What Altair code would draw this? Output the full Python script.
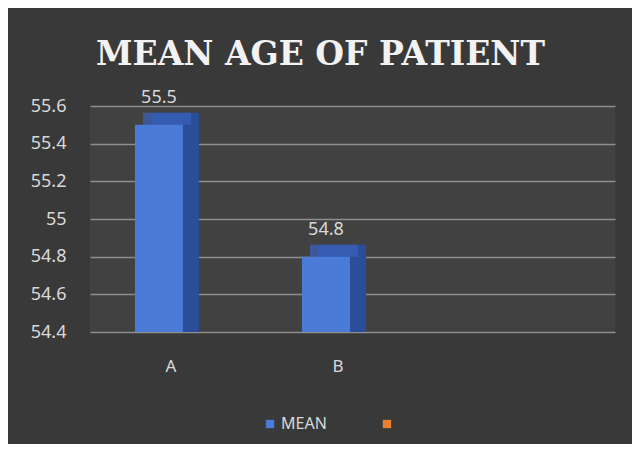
import altair as alt
import pandas as pd

categories = ["A", "B"]
values = [55.5, 54.8]
series = ["MEAN", "MEAN"]
legend_series = ["MEAN", " "]
legend_colors = ["#4a7bd6", "#ED7D31"]
y_ticks = [54.4, 54.6, 54.8, 55.0, 55.2, 55.4, 55.6]

df = pd.DataFrame({"cat": categories, "value": values, "series": series})

FONT = "Noto Sans"
TXT = "#d9d9d9"

x_enc = alt.X(
    "cat:N",
    scale=alt.Scale(domain=categories, paddingInner=0.7126, paddingOuter=0.928, align=0.145),
    axis=alt.Axis(title=None, labelAngle=0, domain=False, ticks=False, grid=False,
                  labelFont=FONT, labelFontSize=17, labelColor=TXT,
                  labelPadding=26, labelOffset=12),
)
y_enc = alt.Y(
    "value:Q",
    scale=alt.Scale(domain=[y_ticks[0], y_ticks[-1]], zero=False, nice=False),
    axis=alt.Axis(title=None, values=y_ticks, format="~g", domain=False, ticks=False,
                  grid=True, gridColor="#8e8e8e", gridWidth=1.6,
                  labelFont=FONT, labelFontSize=18, labelColor=TXT, labelPadding=24),
)

base = alt.Chart(df).encode(x=x_enc, y=y_enc)

side = base.mark_bar(color="#2b4e9a", xOffset=16, yOffset=-12).encode(y2=alt.datum(y_ticks[0]))
top = base.mark_tick(color="#3a63bb", size=48, thickness=12, xOffset=8, yOffset=-6, orient="horizontal")
front = base.mark_bar().encode(
    y2=alt.datum(y_ticks[0]),
    color=alt.Color(
        "series:N",
        scale=alt.Scale(domain=legend_series, range=legend_colors),
        legend=alt.Legend(title=None, orient="none", legendX=172, legendY=310,
                          direction="horizontal", symbolType="square", symbolSize=70,
                          symbolStrokeWidth=0, labelFont=FONT, labelFontSize=16,
                          labelColor=TXT, columnPadding=52, labelOffset=3, padding=0),
    ),
)
labels = base.mark_text(dy=-18, baseline="bottom", font=FONT, fontSize=18, color=TXT).encode(
    text=alt.Text("value:Q", format="~g")
)

chart = alt.layer(side, top, front, labels).properties(
    width=525,
    height=226,
    autosize=alt.AutoSizeParams(type="none"),
    padding={"left": 82, "top": 98, "right": 17, "bottom": 112},
    background="#393939",
    title=alt.Title("MEAN AGE OF PATIENT", font="DejaVu Serif", fontSize=33,
                    fontWeight="bold", color="#f2f2f2", anchor="middle", frame="group",
                    baseline="alphabetic", offset=0, dy=9, dx=-32),
).configure_view(
    strokeWidth=0,
    fill="#414141",
)

chart.save("out.html", embed_options={"renderer": "svg", "actions": False})
